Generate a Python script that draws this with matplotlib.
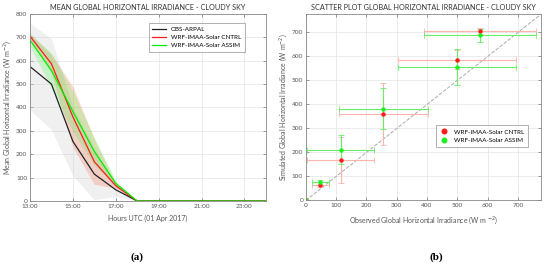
import matplotlib
matplotlib.use('Agg')
import numpy as np
from matplotlib import pyplot as plt

plt.rcParams['font.family'] = ['Lato', 'DejaVu Sans']

# hourly means (01 Apr 2017), 13:00 .. 24:00
hours = [13, 14, 15, 16, 17, 18, 19, 20, 21, 22, 23, 24]
obs = [575, 500, 255, 115, 48, 0, 0, 0, 0, 0, 0, 0]
cntrl = [705, 587, 360, 168, 65, 0, 0, 0, 0, 0, 0, 0]
assim = [688, 558, 383, 212, 75, 0, 0, 0, 0, 0, 0, 0]
obs_std = [185, 195, 147, 110, 28, 0, 0, 0, 0, 0, 0, 0]
cntrl_std = [12, 40, 130, 97, 10, 0, 0, 0, 0, 0, 0, 0]
assim_std = [27, 75, 86, 59, 10, 0, 0, 0, 0, 0, 0, 0]

hour_ticks = [13, 15, 17, 19, 21, 23]
hour_labels = ['13:00', '15:00', '17:00', '19:00', '21:00', '23:00']
n_scatter = 6

tick_col = '#555555'

def style_axes(ax):
    ax.grid(True, color='#e3e3e3', linewidth=0.5)
    ax.set_axisbelow(True)
    for s in ax.spines.values():
        s.set_color('#888888')
        s.set_linewidth(0.6)
    ax.tick_params(labelsize=4.6, colors=tick_col, direction='in', length=2,
                   width=0.4, top=True, right=True, pad=2)

fig = plt.figure(figsize=(5.5, 2.65), dpi=100)

# ---- (a) time series
ax1 = fig.add_axes([0.0545, 0.2415, 0.429, 0.706])
h = np.array(hours)
o, c, a = np.array(obs), np.array(cntrl), np.array(assim)
so, sc, sa = np.array(obs_std), np.array(cntrl_std), np.array(assim_std)
ax1.fill_between(h, o - so, o + so, color='#d4d4d4', alpha=0.35, linewidth=0)
ax1.fill_between(h, c - sc, c + sc, color='#ff6a4a', alpha=0.25, linewidth=0)
ax1.fill_between(h, a - sa, a + sa, color='#33ff33', alpha=0.22, linewidth=0)
ax1.plot(h, o, color='#222222', linewidth=0.9, label='OBS-ARPAL')
ax1.plot(h, c, color='#ff1a1a', linewidth=0.9, label='WRF-IMAA-Solar CNTRL')
ax1.plot(h, a, color='#00ee00', linewidth=0.9, label='WRF-IMAA-Solar ASSIM')
ax1.set_xlim(13, 24)
ax1.set_ylim(0, 800)
ax1.set_xticks(hour_ticks)
ax1.set_xticklabels(hour_labels)
style_axes(ax1)
ax1.set_title('MEAN GLOBAL HORIZONTAL IRRADIANCE - CLOUDY SKY', fontsize=5.2,
              color='#333333', pad=3)
ax1.set_xlabel('Hours UTC (01 Apr 2017)', fontsize=5, color=tick_col, labelpad=4)
ax1.set_ylabel('Mean Global Horizontal Irradiance (W m$^{-2}$)', fontsize=5,
               color=tick_col, labelpad=2)
leg1 = ax1.legend(loc='upper right', fontsize=4.5, frameon=True, fancybox=False,
                  edgecolor='#777777', handlelength=2.2, borderpad=0.6,
                  labelspacing=0.45, bbox_to_anchor=(0.925, 0.97))
leg1.get_frame().set_linewidth(0.5)

# ---- (b) scatter
ax2 = fig.add_axes([0.556, 0.2435, 0.427, 0.702])
lim = 775
ax2.plot([0, lim], [0, lim], '--', color='#aaaaaa', linewidth=0.7)
xo = o[:n_scatter]
ax2.errorbar(xo, c[:n_scatter], xerr=so[:n_scatter], yerr=sc[:n_scatter], fmt='none',
             ecolor='#ffb3ab', elinewidth=0.8, capsize=2, capthick=0.6)
ax2.errorbar(xo, a[:n_scatter], xerr=so[:n_scatter], yerr=sa[:n_scatter], fmt='none',
             ecolor='#66ee66', elinewidth=0.8, capsize=2, capthick=0.6)
ax2.plot(xo, c[:n_scatter], 'o', color='#ff1a1a', markersize=2.2, linestyle='none',
         label='WRF-IMAA-Solar CNTRL')
ax2.plot(xo, a[:n_scatter], 'o', color='#22ee22', markersize=2.2, linestyle='none',
         label='WRF-IMAA-Solar ASSIM')
ax2.set_xlim(0, lim)
ax2.set_ylim(0, lim)
ax2.set_xticks(range(0, 800, 100))
ax2.set_yticks(range(0, 800, 100))
style_axes(ax2)
ax2.set_title('SCATTER PLOT GLOBAL HORIZONTAL IRRADIANCE - CLOUDY SKY', fontsize=5.2,
              color='#333333', pad=3)
ax2.set_xlabel('Observed Global Horizontal Irradiance (W m $^{-2}$)', fontsize=5,
               color=tick_col, labelpad=5)
ax2.set_ylabel('Simulated Global Horizontal Irradiance (W m$^{-2}$)', fontsize=5,
               color=tick_col, labelpad=2)
leg2 = ax2.legend(loc='upper left', fontsize=4.5, frameon=True, fancybox=False,
                  edgecolor='#777777', markerscale=1.5, handlelength=1.5,
                  borderpad=0.6, labelspacing=0.45, bbox_to_anchor=(0.54, 0.42))
leg2.get_frame().set_linewidth(0.5)

fig.text(0.249, 0.02, '(a)', fontsize=8, fontweight='bold', ha='center',
         family='Liberation Serif')
fig.text(0.793, 0.02, '(b)', fontsize=8, fontweight='bold', ha='center',
         family='Liberation Serif')

fig.savefig('out.png', dpi=100)
